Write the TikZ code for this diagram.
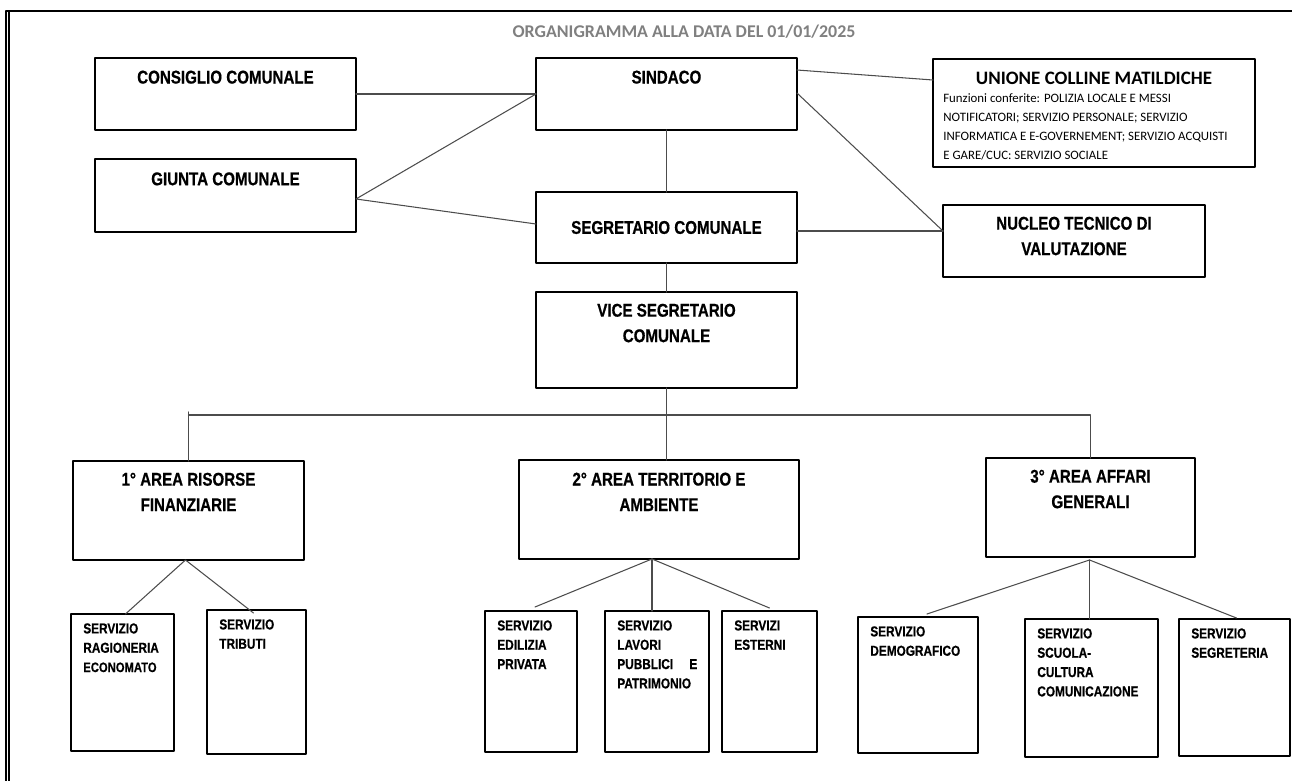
\documentclass[tikz,border=0pt]{standalone}
\usepackage{fontspec}
\setmainfont{Carlito}
\newfontfamily\narrowfont{Liberation Sans Bold}[FakeStretch=0.82, FakeBold=0.6]
\usetikzlibrary{positioning,calc}
\definecolor{titlegray}{HTML}{808080}
\tikzset{
  box/.style={draw, line width=0.7pt, inner sep=0pt, outer sep=0pt, anchor=north west},
  bigtxt/.style={font=\narrowfont\fontsize{10.5}{14.5}\selectfont, align=center, inner sep=0pt},
  smalltxt/.style={font=\narrowfont\fontsize{8.2}{11}\selectfont, align=left, inner sep=0pt, anchor=north west},
  link/.style={draw=black!70, line width=0.6pt},
}
\begin{document}
\begin{tikzpicture}[x=0.02cm, y=-0.02cm, line join=round, line cap=round]
\useasboundingbox (0,0) rectangle (1292,781);
% cornice
\draw[line width=0.6pt] (6,781) -- (6,11) -- (1292,11);
\draw[line width=0.6pt] (9,781) -- (9,11);
\node[font=\bfseries\fontsize{10.2}{12}\selectfont, text=titlegray, inner sep=0pt] (title) at (684,32) {ORGANIGRAMMA ALLA DATA DEL 01/01/2025};

% organi di governo
\node[box, minimum width=5.22cm, minimum height=1.44cm] (cons) at (95,58) {};
\node[bigtxt, below=7pt of cons.north] (cons-t) {CONSIGLIO COMUNALE};
\node[box, minimum width=5.22cm, minimum height=1.46cm] (giunta) at (95,159) {};
\node[bigtxt, below=7.4pt of giunta.north] (giunta-t) {GIUNTA COMUNALE};
\node[box, minimum width=5.22cm, minimum height=1.44cm] (sind) at (536,58) {};
\node[bigtxt, below=7pt of sind.north] (sind-t) {SINDACO};
\node[box, minimum width=6.44cm, minimum height=2.16cm] (unione) at (933,59) {};
\node[font=\bfseries\fontsize{10.8}{12}\selectfont, inner sep=0pt, below=7pt of unione.north] (unione-t) {UNIONE COLLINE MATILDICHE};
\node[font=\fontsize{7.3}{10.8}\selectfont, align=left, inner sep=0pt, anchor=north west] (unione-b) at ($(unione.north west)+(10,34)$)
  {Funzioni conferite: POLIZIA LOCALE E MESSI\\NOTIFICATORI; SERVIZIO PERSONALE; SERVIZIO\\INFORMATICA E E-GOVERNEMENT; SERVIZIO ACQUISTI\\E GARE/CUC: SERVIZIO SOCIALE};
\node[box, minimum width=5.22cm, minimum height=1.42cm] (segr) at (536,192) {};
\node[bigtxt] (segr-t) at (segr.center) {SEGRETARIO COMUNALE};
\node[box, minimum width=5.24cm, minimum height=1.44cm] (nucleo) at (943,205) {};
\node[bigtxt, below=6.5pt of nucleo.north] (nucleo-t) {NUCLEO TECNICO DI\\VALUTAZIONE};
\node[box, minimum width=5.22cm, minimum height=1.92cm] (vice) at (536,292) {};
\node[bigtxt, below=6.5pt of vice.north] (vice-t) {VICE SEGRETARIO\\COMUNALE};

% aree
\node[box, minimum width=4.62cm, minimum height=1.98cm] (area1) at (73,461) {};
\node[bigtxt, below=6.5pt of area1.north] (area1-t) {1° AREA RISORSE\\FINANZIARIE};
\node[box, minimum width=5.60cm, minimum height=1.98cm] (area2) at (519,460) {};
\node[bigtxt, below=7pt of area2.north] (area2-t) {2° AREA TERRITORIO E\\AMBIENTE};
\node[box, minimum width=4.18cm, minimum height=1.98cm] (area3) at (986,458) {};
\node[bigtxt, below=6.5pt of area3.north] (area3-t) {3° AREA AFFARI\\GENERALI};

% servizi
\foreach \name/\xa/\ya/\w/\h/\txt in {
  rag/71/614/2.06/2.74/{SERVIZIO\\RAGIONERIA\\{\fontsize{7.8}{11}\selectfont ECONOMATO}},
  trib/207/610/1.98/2.88/{SERVIZIO\\TRIBUTI},
  edil/485/611/1.84/2.82/{SERVIZIO\\EDILIZIA\\PRIVATA},
  lav/605/611/2.08/2.82/{SERVIZIO\\LAVORI\\\makebox[1.6cm][l]{PUBBLICI\hfill E}\\PATRIMONIO},
  est/722/611/1.90/2.82/{SERVIZI\\ESTERNI},
  demo/858/617/2.40/2.72/{SERVIZIO\\DEMOGRAFICO},
  cult/1025/619/2.66/2.76/{SERVIZIO\\SCUOLA-\\CULTURA\\COMUNICAZIONE},
  segrt/1179/619/2.22/2.74/{SERVIZIO\\SEGRETERIA}}{
  \node[box, minimum width=\w cm, minimum height=\h cm] (\name) at (\xa,\ya) {};
  \node[smalltxt] (\name-t) at ($(\name.north west)+(12,9)$) {\txt};
}

% collegamenti
\draw[link] (cons.east) -- (sind.west);
\coordinate (gj) at ($(giunta.north east)+(0,40)$);
\draw[link] (sind.west) -- (gj) -- ($(segr.north west)+(0,32)$);
\draw[link] (sind.south) -- (segr.north);
\draw[link] ($(sind.north east)+(0,12)$) -- ($(unione.north west)+(0,21)$);
\coordinate (nv) at ($(nucleo.north west)+(0,26)$);
\draw[link] ($(sind.north east)+(0,35)$) -- (nv);
\draw[link] ($(segr.north east)+(0,39)$) -- (nv);
\draw[link] (segr.south) -- (vice.north);
\draw[link] (vice.south) -- (vice.south |- area2.north);
\coordinate (bus) at ($(vice.south)+(0,27)$);
\draw[link] (area1.north) -- ($(area1.north |- bus)+(0,-3)$);
\draw[link] (area1.north |- bus) -- (area3.north |- bus) -- (area3.north);

\draw[link] ($(rag.north)+(3,0)$) -- ($(area1.south)+(-3,0)$) -- ($(trib.north)+(-3,3)$);
\coordinate (a2) at ($(area2.south)+(-7,0)$);
\draw[link] ($(edil.north)+(4,-4)$) -- (a2) -- ($(est.north)+(0,-3)$);
\draw[link] (a2) -- (a2 |- lav.north);
\coordinate (a3) at ($(area3.south)+(-1,3)$);
\draw[link] ($(demo.north)+(9,-3)$) -- (a3) -- ($(segrt.north)+(2,-1)$);
\draw[link] (a3) -- (a3 |- cult.north);
\end{tikzpicture}
\end{document}
